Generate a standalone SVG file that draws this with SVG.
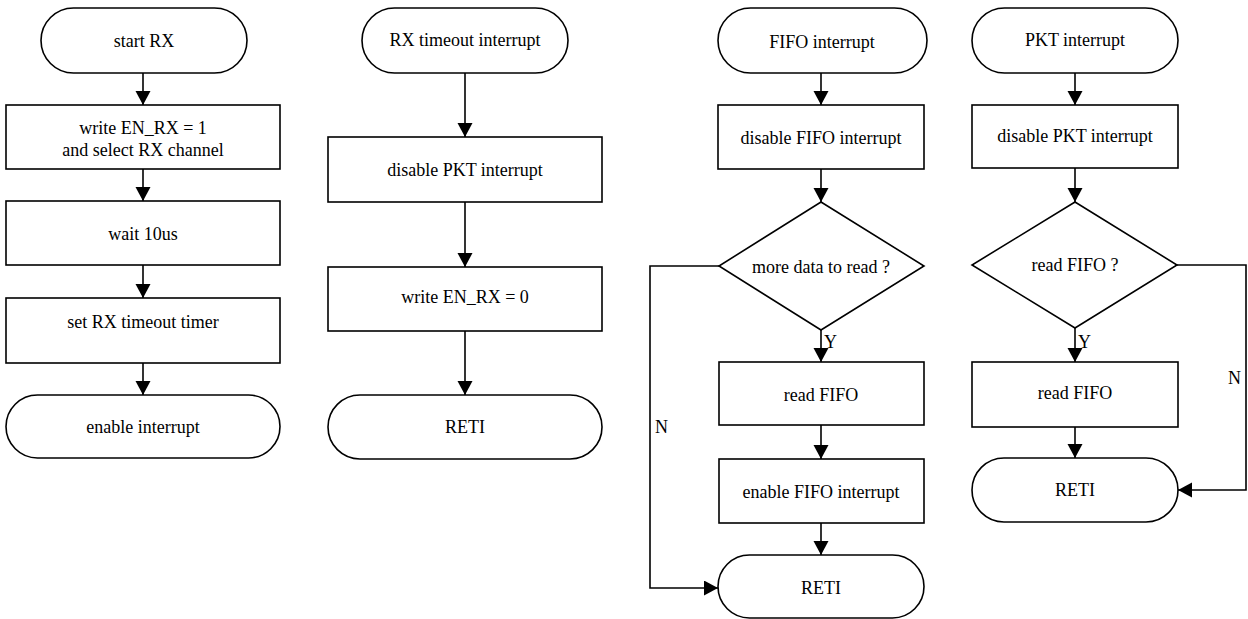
<svg xmlns="http://www.w3.org/2000/svg" width="1248" height="619" viewBox="0 0 1248 619">
<style>
.s{fill:#fff;stroke:#000;stroke-width:1.6}
.t{font-family:"Liberation Serif","Times New Roman",serif;font-size:18px;fill:#000;text-anchor:middle}
.l{font-family:"Liberation Serif","Times New Roman",serif;font-size:18px;fill:#000}
.c{fill:none;stroke:#000;stroke-width:1.6}
</style>
<defs>
<marker id="ah" markerUnits="userSpaceOnUse" markerWidth="16" markerHeight="16" refX="14" refY="7.5" orient="auto">
<path d="M0,0 L14,7.5 L0,15 z" fill="#000"/>
</marker>
</defs>
<rect width="1248" height="619" fill="#fff"/>
<g id="connectors">
<path class="c" marker-end="url(#ah)" d="M143,73 V105"/>
<path class="c" marker-end="url(#ah)" d="M143,169 V201"/>
<path class="c" marker-end="url(#ah)" d="M143,265 V298"/>
<path class="c" marker-end="url(#ah)" d="M143,363 V395"/>
<path class="c" marker-end="url(#ah)" d="M465,73 V137"/>
<path class="c" marker-end="url(#ah)" d="M465,202 V267"/>
<path class="c" marker-end="url(#ah)" d="M465,331 V395"/>
<path class="c" marker-end="url(#ah)" d="M821,73 V105"/>
<path class="c" marker-end="url(#ah)" d="M821,169 V202"/>
<path class="c" marker-end="url(#ah)" d="M821,330 V362"/>
<path class="c" marker-end="url(#ah)" d="M821,425 V459"/>
<path class="c" marker-end="url(#ah)" d="M821,523 V555"/>
<path class="c" marker-end="url(#ah)" d="M719,266 H650 V588 H718"/>
<path class="c" marker-end="url(#ah)" d="M1075,73 V105"/>
<path class="c" marker-end="url(#ah)" d="M1075,168 V202"/>
<path class="c" marker-end="url(#ah)" d="M1075,328 V362"/>
<path class="c" marker-end="url(#ah)" d="M1075,427 V458"/>
<path class="c" marker-end="url(#ah)" d="M1177,265 H1246 V490 H1178"/>
<text class="l" x="824" y="348">Y</text>
<text class="l" x="655" y="433">N</text>
<text class="l" x="1078" y="348">Y</text>
<text class="l" x="1228" y="384">N</text>
</g>
<g id="start_rx"><rect class="s" x="41" y="8" width="206" height="65" rx="32.5"/><text class="t" x="144" y="47">start RX</text></g>
<g id="write_en_rx1"><rect class="s" x="6" y="105" width="274" height="64"/><text class="t" x="143" y="134">write EN_RX = 1</text><text class="t" x="143" y="156">and select RX channel</text></g>
<g id="wait"><rect class="s" x="6" y="201" width="274" height="64"/><text class="t" x="143" y="240">wait 10us</text></g>
<g id="set_timer"><rect class="s" x="6" y="298" width="274" height="65"/><text class="t" x="143" y="328">set RX timeout timer</text></g>
<g id="enable_int"><rect class="s" x="6" y="395" width="274" height="63" rx="31.5"/><text class="t" x="143" y="433">enable interrupt</text></g>

<g id="rx_timeout"><rect class="s" x="362" y="8" width="206" height="65" rx="32.5"/><text class="t" x="465" y="46">RX timeout interrupt</text></g>
<g id="disable_pkt1"><rect class="s" x="328" y="137" width="274" height="65"/><text class="t" x="465" y="176">disable PKT interrupt</text></g>
<g id="write_en_rx0"><rect class="s" x="328" y="267" width="274" height="64"/><text class="t" x="465" y="303">write EN_RX = 0</text></g>
<g id="reti1"><rect class="s" x="328" y="395" width="274" height="64" rx="32"/><text class="t" x="465" y="433">RETI</text></g>

<g id="fifo_int"><rect class="s" x="718" y="8" width="209" height="65" rx="32.5"/><text class="t" x="822" y="48">FIFO interrupt</text></g>
<g id="disable_fifo"><rect class="s" x="718" y="105" width="206" height="64"/><text class="t" x="821" y="144">disable FIFO interrupt</text></g>
<g id="more_data"><polygon class="s" points="821,202 924,266 821,330 719,266"/><text class="t" x="821" y="273">more data to read ?</text></g>
<g id="read_fifo1"><rect class="s" x="719" y="362" width="205" height="63"/><text class="t" x="821" y="401">read FIFO</text></g>
<g id="enable_fifo"><rect class="s" x="719" y="459" width="205" height="64"/><text class="t" x="821" y="498">enable FIFO interrupt</text></g>
<g id="reti2"><rect class="s" x="718" y="555" width="206" height="63" rx="31.5"/><text class="t" x="821" y="594">RETI</text></g>

<g id="pkt_int"><rect class="s" x="972" y="8" width="206" height="65" rx="32.5"/><text class="t" x="1075" y="46">PKT interrupt</text></g>
<g id="disable_pkt2"><rect class="s" x="972" y="105" width="206" height="63"/><text class="t" x="1075" y="142">disable PKT interrupt</text></g>
<g id="read_fifo_q"><polygon class="s" points="1075,202 1177,265 1075,328 972,265"/><text class="t" x="1075" y="271">read FIFO ?</text></g>
<g id="read_fifo2"><rect class="s" x="972" y="362" width="206" height="65"/><text class="t" x="1075" y="399">read FIFO</text></g>
<g id="reti3"><rect class="s" x="972" y="458" width="206" height="64" rx="32"/><text class="t" x="1075" y="496">RETI</text></g>
</svg>
